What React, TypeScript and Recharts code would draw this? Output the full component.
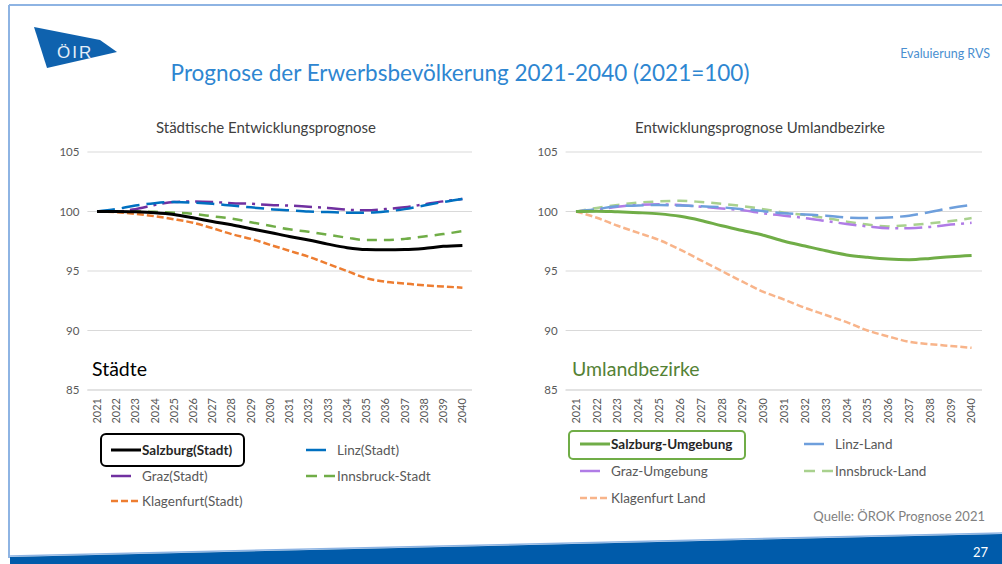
import React from 'react'
import { LineChart, Line, XAxis, YAxis, CartesianGrid } from 'recharts'

const years = ['2021', '2022', '2023', '2024', '2025', '2026', '2027', '2028', '2029', '2030',
  '2031', '2032', '2033', '2034', '2035', '2036', '2037', '2038', '2039', '2040']
const yTicks = [85, 90, 95, 100, 105]

// Städte
const salzburgStadt = [100, 100, 99.97, 99.9, 99.75, 99.47, 99.16, 98.88, 98.55, 98.24, 97.9, 97.6, 97.26, 96.96, 96.8, 96.78, 96.8, 96.9, 97.07, 97.15]
const linzStadt = [100, 100.2, 100.5, 100.7, 100.8, 100.75, 100.65, 100.5, 100.35, 100.2, 100.1, 100, 99.95, 99.9, 99.9, 100, 100.2, 100.5, 100.8, 101.05]
const grazStadt = [100, 100, 100.2, 100.55, 100.8, 100.85, 100.8, 100.7, 100.65, 100.55, 100.5, 100.4, 100.3, 100.15, 100.1, 100.2, 100.35, 100.6, 100.85, 101.05]
const innsbruckStadt = [100, 100, 100, 99.97, 99.9, 99.8, 99.6, 99.4, 99.1, 98.8, 98.5, 98.3, 98.05, 97.8, 97.6, 97.6, 97.7, 97.9, 98.1, 98.35]
const klagenfurtStadt = [100, 99.95, 99.8, 99.6, 99.35, 99.05, 98.6, 98.1, 97.7, 97.2, 96.7, 96.2, 95.6, 95.0, 94.4, 94.1, 93.95, 93.8, 93.7, 93.6]

// Umlandbezirke
const salzburgUmg = [100, 100.03, 99.97, 99.9, 99.8, 99.6, 99.25, 98.8, 98.4, 98.0, 97.5, 97.1, 96.7, 96.35, 96.15, 96.0, 95.95, 96.05, 96.2, 96.3]
const linzLand = [100, 100.2, 100.45, 100.5, 100.55, 100.5, 100.45, 100.35, 100.2, 100.03, 99.85, 99.75, 99.65, 99.5, 99.45, 99.5, 99.65, 99.95, 100.3, 100.55]
const grazUmg = [100, 100.15, 100.4, 100.55, 100.6, 100.55, 100.4, 100.25, 100.1, 99.85, 99.65, 99.45, 99.2, 98.95, 98.75, 98.6, 98.6, 98.7, 98.9, 99.05]
const innsbruckLand = [100, 100.3, 100.55, 100.75, 100.85, 100.9, 100.8, 100.65, 100.45, 100.2, 99.9, 99.7, 99.45, 99.15, 98.9, 98.75, 98.85, 99.0, 99.2, 99.45]
const klagenfurtLand = [100, 99.47, 98.8, 98.2, 97.6, 96.8, 95.9, 95.0, 94.1, 93.25, 92.6, 91.9, 91.3, 90.7, 90.0, 89.5, 89.05, 88.85, 88.7, 88.55]

const FONT = 'Lato, "Open Sans", sans-serif'

type Series = { key: string; name: string; values: number[]; color: string; dash?: string; width: number; bold?: boolean }

const cityKeys: Series[] = [
  { key: 'sbg', name: 'Salzburg(Stadt)', values: salzburgStadt, color: '#000000', width: 3, bold: true },
  { key: 'linz', name: 'Linz(Stadt)', values: linzStadt, color: '#0070C0', dash: '18 7', width: 2.5 },
  { key: 'graz', name: 'Graz(Stadt)', values: grazStadt, color: '#7030A0', dash: '18 6 3 6', width: 2.5 },
  { key: 'ibk', name: 'Innsbruck-Stadt', values: innsbruckStadt, color: '#70AD47', dash: '10 7', width: 2.5 },
  { key: 'kla', name: 'Klagenfurt(Stadt)', values: klagenfurtStadt, color: '#ED7D31', dash: '7 3', width: 2.5 },
]

const ruralKeys: Series[] = [
  { key: 'sbg', name: 'Salzburg-Umgebung', values: salzburgUmg, color: '#70AD47', width: 3, bold: true },
  { key: 'linz', name: 'Linz-Land', values: linzLand, color: '#6E9FDC', dash: '18 7', width: 2.5 },
  { key: 'graz', name: 'Graz-Umgebung', values: grazUmg, color: '#B07CE6', dash: '18 6 3 6', width: 2.5 },
  { key: 'ibk', name: 'Innsbruck-Land', values: innsbruckLand, color: '#A9D18E', dash: '10 7', width: 2.5 },
  { key: 'kla', name: 'Klagenfurt Land', values: klagenfurtLand, color: '#F8B48A', dash: '7 3', width: 2.5 },
]

const toRows = (series: Series[]) =>
  years.map((year, i) => {
    const row: Record<string, string | number> = { year }
    series.forEach(s => { row[s.key] = s.values[i] })
    return row
  })

const YearTick = (props: any) => {
  const { x, y, payload } = props
  return (
    <text x={x} y={y} transform={`rotate(-90 ${x} ${y})`} textAnchor="end" dy="0.35em"
      fontSize={11} fill="#595959" fontFamily={FONT}>
      {payload.value}
    </text>
  )
}

const Panel = ({ series, left, width, marginLeft, pad }: { series: Series[]; left: number; width: number; marginLeft: number; pad: number }) => (
  <div style={{ position: 'absolute', left, top: 140 }}>
    <LineChart width={width} height={300} data={toRows(series)}
      margin={{ top: 12, right: 18, bottom: 10, left: marginLeft }}>
      <CartesianGrid vertical={false} stroke="#D9D9D9" />
      <XAxis dataKey="year" interval={0} height={40} tick={<YearTick />} tickLine={false}
        padding={{ left: pad, right: pad }} axisLine={{ stroke: '#D9D9D9' }} />
      <YAxis domain={[85, 105]} ticks={yTicks} width={40} tickLine={false} axisLine={false}
        tick={{ fontSize: 11.5, fill: '#595959', fontFamily: FONT }} />
      {series.slice().reverse().map(s => (
        <Line key={s.key} dataKey={s.key} name={s.name} type="monotone" stroke={s.color}
          strokeWidth={s.width} strokeDasharray={s.dash} dot={false} isAnimationActive={false} />
      ))}
    </LineChart>
  </div>
)

const LegendItem = ({ s, x, y, lineW }: { s: Series; x: number; y: number; lineW: number }) => (
  <div style={{ position: 'absolute', left: x, top: y - 10, height: 20 }}>
    <svg width={lineW} height={6} style={{ position: 'absolute', left: 0, top: 7 }}>
      <line x1={0} y1={3} x2={lineW} y2={3} stroke={s.color} strokeWidth={s.bold ? 3 : 2.5}
        strokeDasharray={s.key === 'ibk' ? '11 7' : s.key === 'kla' ? '7 3' : undefined} />
    </svg>
    <span style={{ position: 'absolute', left: 31, top: 1, lineHeight: '18px', fontSize: 13.5, color: s.bold ? '#262626' : '#595959', fontWeight: s.bold ? 700 : 400, whiteSpace: 'nowrap' }}>
      {s.name}
    </span>
  </div>
)

const legendSlots = [[0, 0], [1, 0], [0, 1], [1, 1], [0, 2]]

const PanelLegend = ({ series, x0, x1, y0, dy }: { series: Series[]; x0: number; x1: number; y0: number; dy: number }) => (
  <>
    {series.map((s, i) => {
      const [c, r] = legendSlots[i]
      const w = s.bold ? 30 : s.key === 'ibk' || s.key === 'kla' ? 29 : 20
      return <LegendItem key={s.key} s={s} x={c === 0 ? x0 : x1} y={y0 + r * dy} lineW={w} />
    })}
  </>
)

export default function App() {
  return (
    <div style={{ position: 'fixed', left: 0, top: 0, width: 1002, height: 564, background: '#fff', fontFamily: FONT, overflow: 'hidden' }}>
      <svg width={1002} height={564} style={{ position: 'absolute', left: 0, top: 0 }}>
        <line x1={9} y1={5} x2={1002} y2={5} stroke="#8EB4E3" strokeWidth={2} />
        <line x1={9} y1={5} x2={9} y2={558} stroke="#8EB4E3" strokeWidth={2} />
        <line x1={10} y1={556} x2={1002} y2={533} stroke="#8EB4E3" strokeWidth={1.5} />
        <polygon points="10,557 1002,534 1002,564 10,564" fill="#005BAA" />
        <polygon points="34,27 100,40 117,52 47,68" fill="#0F62AE" />
        <text x={57} y={58} fontSize={17} letterSpacing={2} fill="#E4EEF8" fontFamily="Liberation Sans, sans-serif">ÖIR</text>
        <text x={988} y={557} fontSize={13} fill="#FFFFFF" textAnchor="end" fontFamily={FONT}>27</text>
      </svg>

      <div style={{ position: 'absolute', left: 0, width: 920, top: 59, textAlign: 'center', fontSize: 22.5, color: '#2E86D1' }}>
        Prognose der Erwerbsbevölkerung 2021-2040 (2021=100)
      </div>
      <div style={{ position: 'absolute', right: 12, top: 46, fontSize: 12.5, color: '#4A8FD0' }}>Evaluierung RVS</div>

      <div style={{ position: 'absolute', left: 80, width: 372, top: 118, textAlign: 'center', fontSize: 15, color: '#404040' }}>
        Städtische Entwicklungsprognose
      </div>
      <div style={{ position: 'absolute', left: 560, width: 400, top: 118, textAlign: 'center', fontSize: 15, color: '#404040' }}>
        Entwicklungsprognose Umlandbezirke
      </div>

      <Panel series={cityKeys} left={30} width={460} marginLeft={17.4} pad={9.6} />
      <Panel series={ruralKeys} left={510} width={490} marginLeft={15.6} pad={10.4} />

      <div style={{ position: 'absolute', left: 92, top: 357, fontSize: 19.5, color: '#000' }}>Städte</div>
      <div style={{ position: 'absolute', left: 572, top: 357, fontSize: 19.5, color: '#548235' }}>Umlandbezirke</div>

      <div style={{ position: 'absolute', left: 100, top: 433, width: 141, height: 30, border: '2px solid #000', borderRadius: 6 }} />
      <div style={{ position: 'absolute', left: 568, top: 430, width: 174, height: 26, border: '2px solid #70AD47', borderRadius: 5 }} />

      <PanelLegend series={cityKeys} x0={111} x1={306} y0={450} dy={25.5} />
      <PanelLegend series={ruralKeys} x0={580} x1={804} y0={444} dy={27} />

      <div style={{ position: 'absolute', right: 17, top: 508, fontSize: 13, color: '#7F7F7F' }}>Quelle: ÖROK Prognose 2021</div>
    </div>
  )
}
